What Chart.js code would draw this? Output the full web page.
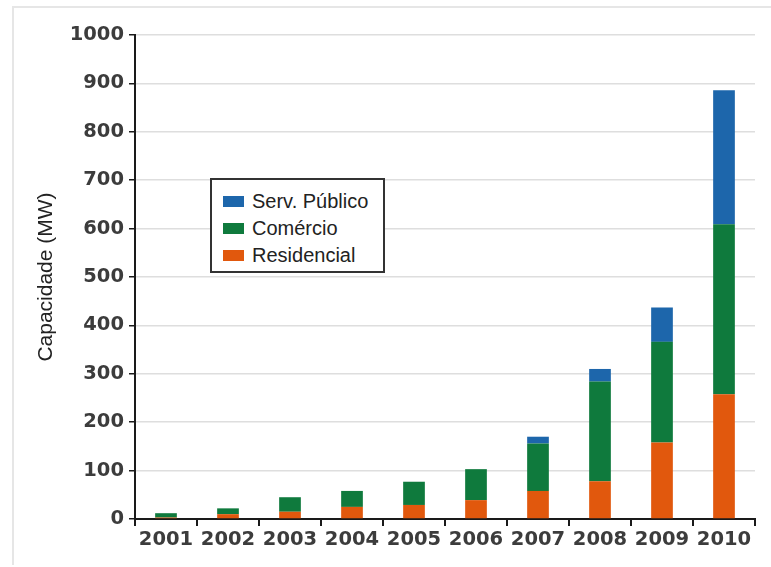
<!DOCTYPE html>
<html>
<head>
<meta charset="utf-8">
<script src="https://cdn.jsdelivr.net/npm/chart.js@4/dist/chart.umd.min.js"></script>
<style>
  html, body { margin: 0; padding: 0; background: #fff; }
  #wrap { position: relative; width: 771px; height: 567px; }
  #frame { position: absolute; left: 12px; top: 6px; right: 0; bottom: 2px;
           border-top: 2px solid #e6e6e6; border-left: 2px solid #e6e6e6; }
  canvas { position: absolute; left: 0; top: 0; }
  #legend { position: absolute; left: 210px; top: 178px; width: 171px; height: 91px;
            border: 2px solid #333; background: #fff; box-sizing: content-box;
            font-family: "Liberation Sans", Arial, sans-serif; font-size: 20px; color: #222; }
  #legend .item { position: absolute; left: 11px; height: 22px; display: flex; align-items: center; }
  #legend .sw { width: 21px; height: 11px; margin-right: 8px; }
</style>
</head>
<body>
<div id="wrap">
  <div id="frame"></div>
  <canvas id="c" width="771" height="567"></canvas>
  <div id="legend"></div>
</div>
<script>
// Installed photovoltaic capacity by sector (MW), 2001–2010
const years = ['2001', '2002', '2003', '2004', '2005', '2006', '2007', '2008', '2009', '2010'];
const residencial = [3, 10, 15, 25, 29, 39, 58, 78, 158, 258];
const comercio    = [9, 12, 30, 33, 48, 64, 98, 206, 208, 351];
const servPublico = [0, 0, 0, 0, 0, 0, 14, 26, 71, 277];
const yTicks = [0, 100, 200, 300, 400, 500, 600, 700, 800, 900, 1000];

const tickFont = { family: '"DejaVu Sans", Verdana, sans-serif', size: 19.5, weight: 'bold' };
const tickColor = '#3c3c3c';

const chart = new Chart(document.getElementById('c'), {
  type: 'bar',
  data: {
    labels: years,
    datasets: [
      { label: 'Residencial', data: residencial, backgroundColor: '#e1580d' },
      { label: 'Comércio', data: comercio, backgroundColor: '#0f7a3d' },
      { label: 'Serv. Público', data: servPublico, backgroundColor: '#1d66ab' }
    ]
  },
  options: {
    responsive: false,
    animation: false,
    events: [],
    layout: { padding: { left: 20, top: 35, right: 16, bottom: 0 } },
    datasets: { bar: { barPercentage: 0.35, categoryPercentage: 1.0 } },
    plugins: { legend: { display: false }, tooltip: { enabled: false } },
    scales: {
      x: {
        stacked: true,
        offset: true,
        afterFit: s => { s.height = 48; },
        border: { color: '#1a1a1a', width: 2 },
        grid: { offset: true, color: 'rgba(0,0,0,0)', tickColor: '#1a1a1a', tickLength: 7, lineWidth: 2, drawOnChartArea: false },
        ticks: { font: tickFont, color: tickColor, padding: 2, maxRotation: 0 }
      },
      y: {
        stacked: true,
        min: 0,
        max: 1000,
        afterFit: s => { s.width = 115; },
        afterBuildTicks: s => { s.ticks = yTicks.map(v => ({ value: v })); },
        border: { color: '#1a1a1a', width: 2 },
        grid: { color: '#dedede', lineWidth: 1.5, tickColor: '#1a1a1a', tickLength: 6 },
        ticks: { font: tickFont, color: tickColor, padding: 5, callback: v => String(v) },
        title: {
          display: true,
          text: 'Capacidade (MW)',
          font: { family: '"Liberation Sans", Arial, sans-serif', size: 21 },
          color: '#222',
          padding: { top: 14, bottom: 0 }
        }
      }
    }
  }
});

// Legend box listing the sectors from top of the stack down
const legend = document.getElementById('legend');
chart.data.datasets.slice().reverse().forEach((ds, i) => {
  const row = document.createElement('div');
  row.className = 'item';
  row.style.top = (10 + i * 27) + 'px';
  const sw = document.createElement('span');
  sw.className = 'sw';
  sw.style.background = ds.backgroundColor;
  const txt = document.createElement('span');
  txt.textContent = ds.label;
  row.appendChild(sw);
  row.appendChild(txt);
  legend.appendChild(row);
});
</script>
</body>
</html>
